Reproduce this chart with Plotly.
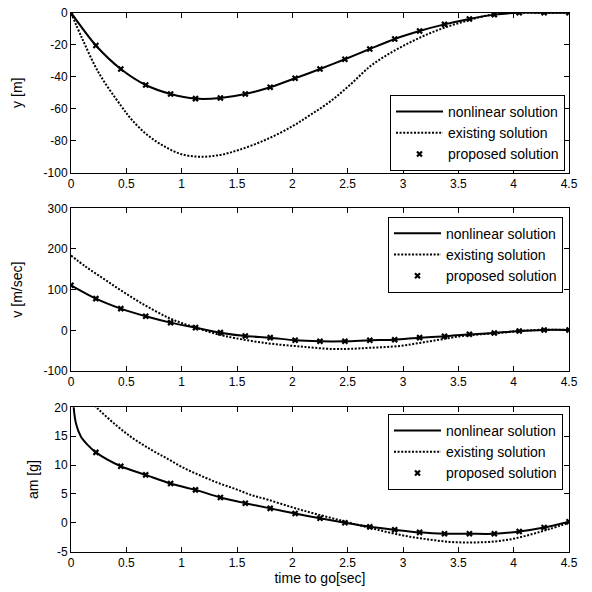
import plotly.graph_objects as go

# ---------------- data ----------------
t_markers = [0, 0.225, 0.45, 0.675, 0.9, 1.125, 1.35, 1.575, 1.8, 2.025, 2.25,
             2.475, 2.7, 2.925, 3.15, 3.375, 3.6, 3.825, 4.05, 4.275, 4.5]

# Plot 1: y [m]
y_nonlinear = [0, -20.5, -35.2, -45.2, -50.8, -53.7, -53.3, -50.8, -46.6, -41.0, -35.2,
               -29.1, -22.7, -16.4, -11.4, -7.3, -3.9, -1.2, 0, 0, 0]
y_proposed = [-1, -20.5, -35.2, -45.2, -50.8, -53.7, -53.3, -50.8, -46.6, -41.0, -35.2,
              -29.1, -22.7, -16.4, -11.4, -7.3, -3.9, -1.2, 0, 0, 0]
t_y_existing = [0, 0.1, 0.25, 0.45, 0.55, 0.7, 0.855, 1.0, 1.16, 1.34, 1.52, 1.76, 2.0,
                2.16, 2.34, 2.52, 2.7, 2.88, 3.06, 3.24, 3.42, 3.6, 3.78, 3.96, 4.14, 4.5]
y_existing = [0, -16, -37.5, -58, -67, -77, -84, -88.5, -90, -89, -85.7, -79.4, -71,
              -64, -55.6, -45.2, -33.7, -25.4, -18.7, -12.9, -8.3, -4.6, -1.4, 0, 0, 0]

# Plot 2: v [m/sec]
v_nonlinear = [110.7, 77.9, 53.3, 34.4, 18.9, 6.6, -5.7, -13.9, -18.0, -24.6, -27.0,
               -27.0, -24.6, -23.0, -18.0, -14.8, -9.8, -6.6, -1.6, 1.0, 1.0]
v_proposed = [110.7, 77.9, 53.3, 34.4, 18.9, 6.6, -5.7, -13.9, -18.0, -24.6, -27.0,
              -27.0, -24.6, -23.0, -18.0, -14.8, -9.8, -6.6, -1.6, 1.0, 1.0]
t_v_existing = [0, 0.13, 0.28, 0.43, 0.58, 0.73, 0.88, 1.0, 1.18, 1.33, 1.48, 1.78, 2.08,
                2.37, 2.52, 2.7, 2.97, 3.15, 3.33, 3.51, 3.69, 3.87, 4.05, 4.23, 4.5]
v_existing = [184, 157, 129.5, 102, 76, 52, 31, 18, 2, -10, -19, -32, -40,
              -46, -45.5, -43, -38.5, -31, -23, -15, -10, -6.6, -1.6, 1.2, 1.6]

# Plot 3: am [g]
t_am_nonlinear = [0, 0.02, 0.045, 0.09, 0.15, 0.225, 0.45, 0.675, 0.9, 1.125, 1.35, 1.575,
                  1.8, 2.025, 2.25, 2.475, 2.7, 2.925, 3.15, 3.375, 3.6, 3.825, 4.05, 4.275, 4.5]
am_nonlinear = [40, 21, 17.2, 14.9, 13.5, 12.2, 9.8, 8.3, 6.8, 5.7, 4.4, 3.4,
                2.5, 1.6, 0.8, 0, -0.7, -1.2, -1.65, -1.9, -1.9, -1.9, -1.5, -0.8, 0.2]
t_am_proposed = t_markers[1:]
am_proposed = [12.2, 9.8, 8.3, 6.8, 5.7, 4.4, 3.4, 2.5, 1.6, 0.8, 0, -0.7, -1.2,
               -1.65, -1.9, -1.9, -1.9, -1.5, -0.8, 0.2]
t_am_existing = [0, 0.1, 0.24, 0.42, 0.57, 0.73, 0.88, 1.03, 1.18, 1.33, 1.48, 1.63, 1.78,
                 1.98, 2.16, 2.34, 2.52, 2.7, 2.88, 3.06, 3.24, 3.42, 3.6, 3.78, 3.96,
                 4.14, 4.32, 4.5]
am_existing = [25, 22.5, 19.8, 16.7, 14.5, 12.6, 11, 9.4, 8.1, 6.9, 5.9, 4.8, 4,
               2.8, 1.8, 0.9, 0, -0.85, -1.7, -2.4, -2.9, -3.3, -3.4, -3.3, -2.9,
               -2.1, -1.1, 0]

x_ticks = [0, 0.5, 1, 1.5, 2, 2.5, 3, 3.5, 4, 4.5]
x_ticklabels = ["0", "0.5", "1", "1.5", "2", "2.5", "3", "3.5", "4", "4.5"]
y1_ticks = [-100, -80, -60, -40, -20, 0]
y1_ticklabels = ["-100", "-80", "-60", "-40", "-20", "0"]
y2_ticks = [-100, 0, 100, 200, 300]
y2_ticklabels = ["-100", "0", "100", "200", "300"]
y3_ticks = [-5, 0, 5, 10, 15, 20]
y3_ticklabels = ["-5", "0", "5", "10", "15", "20"]
names = ["nonlinear solution", "existing solution", "proposed solution"]
y_titles = ["y [m]", "v [m/sec]", "am [g]"]
x_title = "time to go[sec]"

# ---------------- figure ----------------
fig = go.Figure()
FONT = "Liberation Sans, Arial, sans-serif"

panels = [
    (t_markers, y_nonlinear, t_y_existing, y_existing, t_markers, y_proposed, "legend", "x", "y"),
    (t_markers, v_nonlinear, t_v_existing, v_existing, t_markers, v_proposed, "legend2", "x2", "y2"),
    (t_am_nonlinear, am_nonlinear, t_am_existing, am_existing, t_am_proposed, am_proposed, "legend3", "x3", "y3"),
]
for i, (tn, yn, te, ye, tp, yp, leg, xa, ya) in enumerate(panels):
    fig.add_trace(go.Scatter(x=tn, y=yn, mode="lines", name=names[0],
                             line=dict(color="black", width=2, shape="spline", smoothing=0.8),
                             legend=leg, legendgroup=f"a{i}", xaxis=xa, yaxis=ya))
    fig.add_trace(go.Scatter(x=te, y=ye, mode="lines", name=names[1],
                             line=dict(color="black", width=2, dash="2px,1.6px", shape="spline", smoothing=1),
                             legend=leg, legendgroup=f"b{i}", xaxis=xa, yaxis=ya))
    fig.add_trace(go.Scatter(x=tp, y=yp, mode="markers", name=names[2],
                             marker=dict(symbol="x-thin", size=5, color="black",
                                         line=dict(color="black", width=2.2)),
                             legend=leg, legendgroup=f"c{i}", xaxis=xa, yaxis=ya))

W = H = 592
def ydom(top_px, bot_px):
    return [1 - bot_px / H, 1 - top_px / H]

def xfrac(px):
    return px / W

def yfrac(px):
    return 1 - px / H

xdom = [xfrac(71), xfrac(569)]
axis_common = dict(showline=True, linecolor="black", linewidth=1, mirror="ticks",
                   ticks="inside", ticklen=5, tickcolor="black", showgrid=False,
                   zeroline=False, automargin=False, ticklabeloverflow="allow",
                   tickfont=dict(family=FONT, size=12, color="black"))

fig.update_layout(
    width=W, height=H,
    margin=dict(l=0, r=0, t=0, b=0, autoexpand=False),
    paper_bgcolor="white", plot_bgcolor="white",
    font=dict(family=FONT, size=12, color="black"),
    xaxis=dict(domain=xdom, anchor="y", range=[0, 4.5], tickvals=x_ticks, ticktext=x_ticklabels, **axis_common),
    yaxis=dict(domain=ydom(12.7, 172.7), anchor="x", range=[-100, 0],
               tickvals=y1_ticks, ticktext=y1_ticklabels,
               title=dict(text=y_titles[0], standoff=17), **axis_common),
    xaxis2=dict(domain=xdom, anchor="y2", range=[0, 4.5], tickvals=x_ticks, ticktext=x_ticklabels, **axis_common),
    yaxis2=dict(domain=ydom(208.3, 371), anchor="x2", range=[-100, 300],
                tickvals=y2_ticks, ticktext=y2_ticklabels,
                title=dict(text=y_titles[1], standoff=17), **axis_common),
    xaxis3=dict(domain=xdom, anchor="y3", range=[0, 4.5], tickvals=x_ticks, ticktext=x_ticklabels,
                title=dict(text=x_title, standoff=4), **axis_common),
    yaxis3=dict(domain=ydom(407.3, 551.7), anchor="x3", range=[-5, 20],
                tickvals=y3_ticks, ticktext=y3_ticklabels,
                title=dict(text=y_titles[2], standoff=12), **axis_common),
)

leg_common = dict(bgcolor="white", bordercolor="black", borderwidth=1,
                  font=dict(family=FONT, size=14, color="black"),
                  xanchor="right", yanchor="top", traceorder="grouped",
                  tracegroupgap=0, itemwidth=47)
fig.update_layout(
    legend=dict(x=xfrac(565), y=yfrac(95), **leg_common),
    legend2=dict(x=xfrac(563), y=yfrac(216.7), **leg_common),
    legend3=dict(x=xfrac(563), y=yfrac(414), **leg_common),
)

fig.write_html("out.html", config={"displayModeBar": False},
               post_script="document.body.style.margin='0px';")
